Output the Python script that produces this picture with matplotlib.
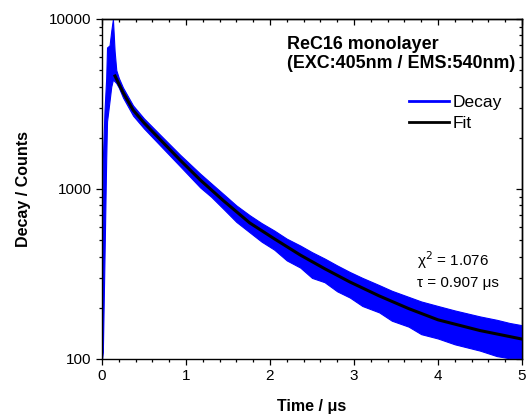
import matplotlib
matplotlib.use("Agg")
import matplotlib.pyplot as plt
from matplotlib.ticker import MultipleLocator, LogLocator, FixedLocator, NullFormatter, FixedFormatter
from matplotlib.lines import Line2D

plt.rcParams['font.family'] = ['Liberation Sans', 'DejaVu Sans']

# Fit curve (time in us, counts)
fit_t = [0.155, 0.25, 0.37, 0.5, 0.69, 0.93, 1.17, 1.45, 1.76, 2.05, 2.36, 2.65, 2.95, 3.3, 3.65, 4.0, 4.5, 5.0]
fit_y = [4620, 3700, 2915, 2450, 1960, 1480, 1130, 850, 631, 510, 409, 340, 284, 235, 198, 170, 147, 131]

# Measured decay: envelope of noisy trace (upper / lower)
dec_t  = [0.0, 0.01, 0.03, 0.05, 0.06, 0.09, 0.11, 0.13, 0.15, 0.17, 0.20, 0.25, 0.37, 0.5, 0.69, 0.93, 1.17, 1.3,
          1.45, 1.6, 1.76, 1.9, 2.05, 2.2, 2.36, 2.5, 2.65, 2.8, 2.95, 3.1, 3.3, 3.45, 3.65, 3.8, 4.0, 4.2,
          4.5, 4.7, 4.85, 5.0]
dec_hi = [120, 1500, 2900, 4500, 6800, 7000, 8500, 10000, 6500, 5000, 4500, 3950, 3100, 2600, 2090, 1590, 1230, 1080,
          930, 800, 700, 630, 570, 510, 465, 425, 390, 355, 325, 300, 272, 252, 232, 218, 205, 193,
          178, 170, 163, 158]
dec_lo = [100, 110, 400, 1500, 2500, 3300, 4000, 4400, 4300, 4200, 3950, 3450, 2700, 2270, 1810, 1360, 1020, 900,
          760, 640, 555, 490, 440, 380, 345, 300, 283, 250, 230, 205, 188, 168, 155, 140, 132, 122,
          112, 104, 101, 101]

y_ticks = [100, 1000, 10000]
y_ticklabels = ['100', '1000', '10000']
x_ticks = [0, 1, 2, 3, 4, 5]

fig = plt.figure(figsize=(5.28, 4.16), dpi=100)
ax = fig.add_axes([102/528, 57/416, 420/528, 340/416])

blue = '#0000ff'
ax.fill_between(dec_t, dec_lo, dec_hi, color=blue, lw=0.8, edgecolor=blue)
ax.plot(fit_t, fit_y, color='black', lw=2.2)

ax.set_yscale('log')
ax.set_xlim(0, 5)
ax.set_ylim(100, 10000)

ax.yaxis.set_major_locator(FixedLocator(y_ticks))
ax.yaxis.set_major_formatter(FixedFormatter(y_ticklabels))
ax.yaxis.set_minor_locator(LogLocator(base=10, subs=[2, 3, 4, 5, 6, 7, 8, 9]))
ax.yaxis.set_minor_formatter(NullFormatter())
ax.xaxis.set_major_locator(FixedLocator(x_ticks))
ax.xaxis.set_minor_locator(MultipleLocator(0.2))

ax.tick_params(which='both', direction='out', top=False, right=False, labelsize=11, width=0.9)
ax.tick_params(axis='x', pad=3.5)
ax.tick_params(axis='y', pad=3.5)
ax.tick_params(which='major', length=4)
ax.tick_params(which='minor', length=2.5)
for s in ax.spines.values():
    s.set_linewidth(1.0)

secx = ax.secondary_xaxis('top')
secx.xaxis.set_major_locator(FixedLocator(x_ticks))
secx.xaxis.set_minor_locator(MultipleLocator(0.2))
secx.tick_params(which='both', direction='in', labeltop=False, width=0.9)
secx.tick_params(which='major', length=4)
secx.tick_params(which='minor', length=2.5)
secx.spines['top'].set_linewidth(1.0)

secy = ax.secondary_yaxis('right')
secy.yaxis.set_major_locator(FixedLocator(y_ticks))
secy.yaxis.set_minor_locator(LogLocator(base=10, subs=[2, 3, 4, 5, 6, 7, 8, 9]))
secy.yaxis.set_minor_formatter(NullFormatter())
secy.tick_params(which='both', direction='in', labelright=False, width=0.9)
secy.tick_params(which='major', length=4)
secy.tick_params(which='minor', length=2.5)
secy.spines['right'].set_linewidth(1.0)

ax.set_xlabel('Time / \u03bcs', fontsize=11.5, fontweight='bold', labelpad=11)
ax.set_ylabel('Decay / Counts', fontsize=11.5, fontweight='bold', labelpad=13)

ax.text(0.44, 0.897, 'ReC16 monolayer\n(EXC:405nm / EMS:540nm)', transform=ax.transAxes,
        fontsize=12.9, fontweight='bold', ha='left', va='center', linespacing=1.1)

handles = [Line2D([], [], color=blue, lw=2), Line2D([], [], color='black', lw=2)]
ax.legend(handles, ['Decay', 'Fit'], loc='upper left', bbox_to_anchor=(0.731, 0.777),
          frameon=False, fontsize=12.5, handlelength=2.3, handletextpad=0.2,
          labelspacing=0.35, borderaxespad=0.0, borderpad=0.0)

ax.text(0.75, 0.262, '\u03c7$^2$ = 1.076\n\u03c4 = 0.907 \u03bcs', transform=ax.transAxes,
        fontsize=11, ha='left', va='center', linespacing=1.45)

fig.savefig('out.png', dpi=100)
